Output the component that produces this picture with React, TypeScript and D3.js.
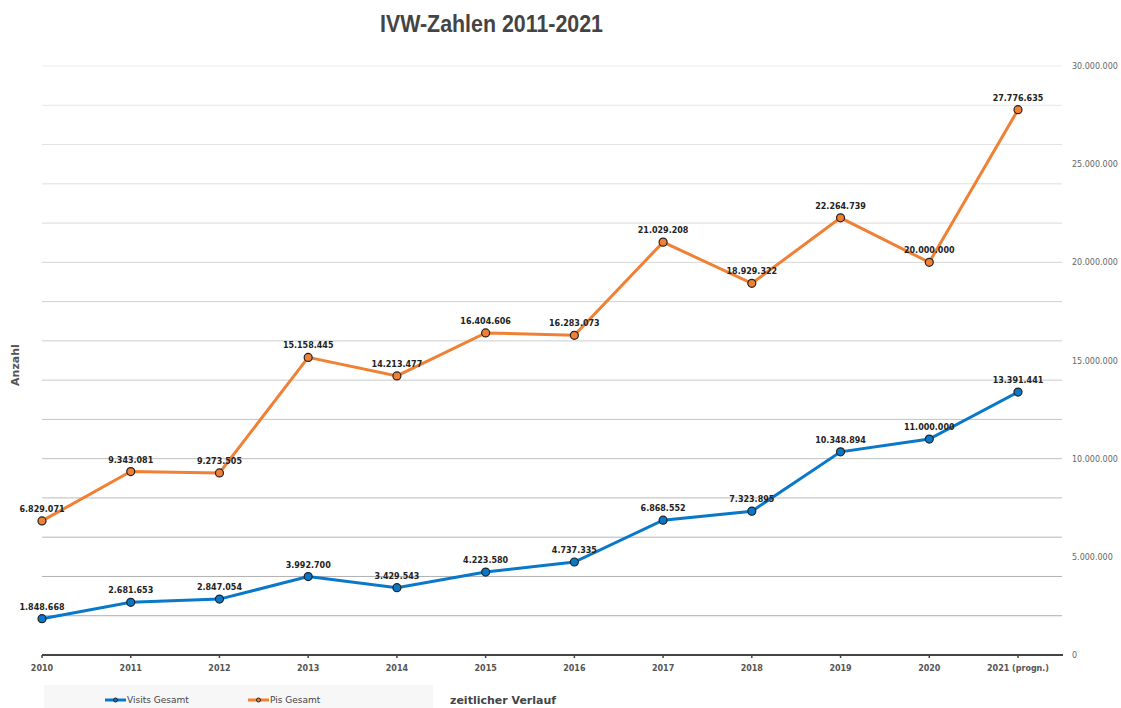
import React from "react";
import * as d3 from "d3";

const categories = ["2010", "2011", "2012", "2013", "2014", "2015", "2016", "2017", "2018", "2019", "2020", "2021 (progn.)"];
const visits = [1848668, 2681653, 2847054, 3992700, 3429543, 4223580, 4737335, 6868552, 7323895, 10348894, 11000000, 13391441];
const pis = [6829071, 9343081, 9273505, 15158445, 14213477, 16404606, 16283073, 21029208, 18929322, 22264739, 20000000, 27776635];
const yLabelTicks = [0, 5000000, 10000000, 15000000, 20000000, 25000000, 30000000];
const gridTicks = d3.range(0, 30000001, 2000000);

const W = 1121, H = 708;
const fmt = (v: number) => d3.format(",")(v).replace(/,/g, ".");

export default function App() {
  const x = d3.scalePoint<string>().domain(categories).range([42, 1018]);
  const y = d3.scaleLinear().domain([0, 30000000]).range([655, 66]);
  const gridColor = d3.scaleLinear<string>().domain([30000000, 0]).range(["#ececec", "#a8a8a8"]);
  const line = d3.line<number>().x((_, i) => x(categories[i])!).y((d) => y(d));
  const series = [
    { name: "Visits Gesamt", data: visits, color: "#0a78c8" },
    { name: "Pis Gesamt", data: pis, color: "#f08034" },
  ];
  return (
    <svg width={W} height={H} style={{ position: "absolute", left: 0, top: 0, background: "#fff" }}>
      <text x={380} y={32} textLength={223} lengthAdjust="spacingAndGlyphs" fontFamily="'Liberation Sans', Arial, sans-serif" fontWeight="bold" fontSize={23} fill="#444">IVW-Zahlen 2011-2021</text>
      {gridTicks.filter((t) => t > 0).map((t) => (
        <line key={t} x1={42} x2={1062} y1={y(t)} y2={y(t)} stroke={gridColor(t)} strokeWidth={1} />
      ))}
      {yLabelTicks.map((t) => (
        <text key={t} x={1072} y={y(t) + 3} fontFamily="'DejaVu Sans', sans-serif" fontSize={8} fill="#666">{fmt(t)}</text>
      ))}
      <line x1={42} x2={1063} y1={655} y2={655} stroke="#444" strokeWidth={2} />
      {categories.map((c) => (
        <g key={c}>
          <line x1={x(c)} x2={x(c)} y1={655} y2={658} stroke="#444" strokeWidth={1.5} />
          <text x={x(c)} y={671} textAnchor="middle" fontFamily="'DejaVu Sans', sans-serif" fontWeight="bold" fontSize={8} fill="#555">{c}</text>
        </g>
      ))}
      <text transform="translate(19,365) rotate(-90)" textAnchor="middle" fontFamily="'DejaVu Sans', sans-serif" fontWeight="bold" fontSize={11} fill="#555">Anzahl</text>
      {series.map((s) => (
        <g key={s.name}>
          <path d={line(s.data)!} fill="none" stroke={s.color} strokeWidth={3} />
          {s.data.map((v, i) => (
            <g key={i}>
              <circle cx={x(categories[i])} cy={y(v)} r={4} fill={s.color} stroke="#222" strokeWidth={1.2} />
              <text x={x(categories[i])} y={y(v) - 9} textAnchor="middle" fontFamily="'DejaVu Sans', sans-serif" fontWeight="bold" fontSize={8} fill="#222">{fmt(v)}</text>
            </g>
          ))}
        </g>
      ))}
      <rect x={44} y={685} width={389} height={23} fill="#f7f7f7" />
      {series.map((s, i) => {
        const lx = 105 + i * 143;
        return (
          <g key={s.name}>
            <line x1={lx} x2={lx + 21} y1={700} y2={700} stroke={s.color} strokeWidth={3} />
            <circle cx={lx + 10.5} cy={700} r={2} fill={s.color} stroke="#222" strokeWidth={1} />
            <text x={lx + 22} y={703} fontFamily="'DejaVu Sans', sans-serif" fontSize={9} fill="#444">{s.name}</text>
          </g>
        );
      })}
      <text x={450} y={704} fontFamily="'DejaVu Sans', sans-serif" fontWeight="bold" fontSize={11} fill="#444">zeitlicher Verlauf</text>
    </svg>
  );
}
